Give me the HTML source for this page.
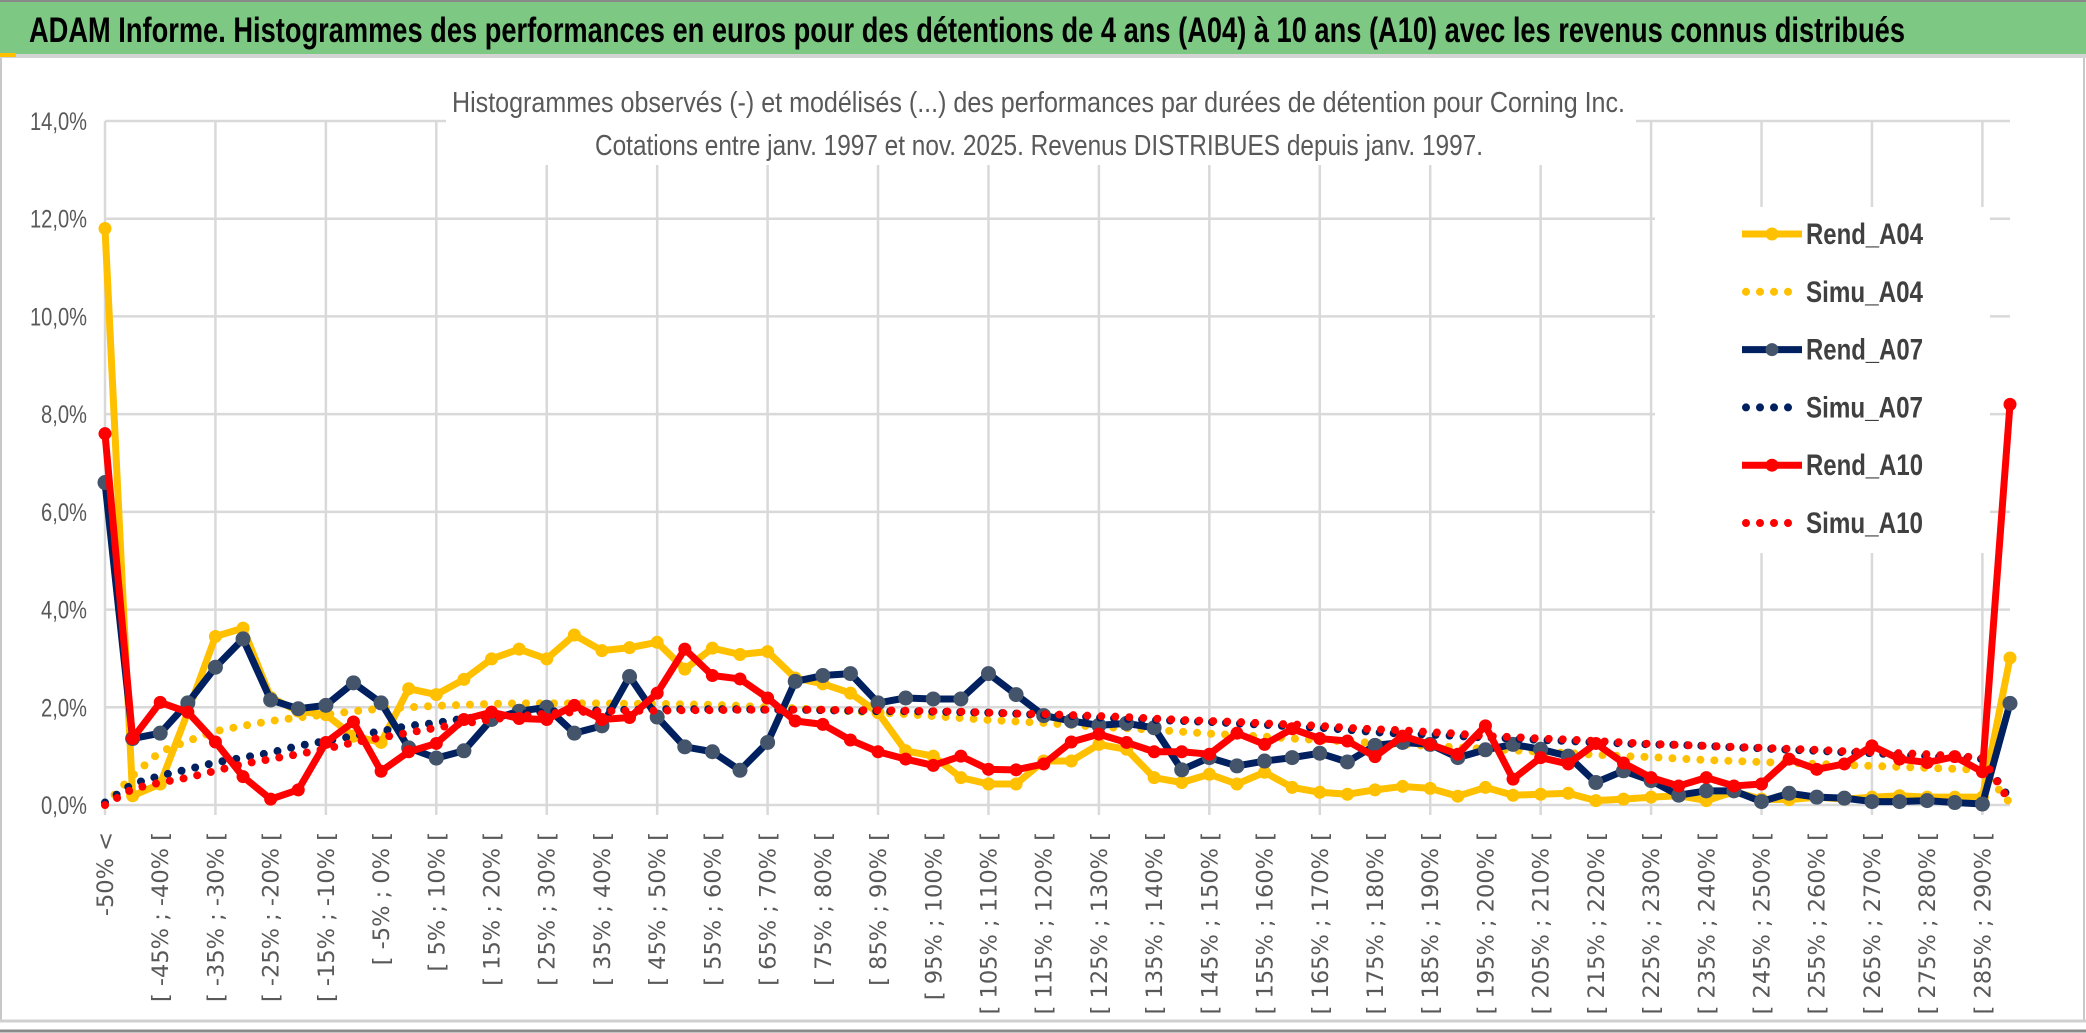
<!DOCTYPE html>
<html><head><meta charset="utf-8"><style>
html,body{margin:0;padding:0;background:#fff;}
svg{display:block;}
</style></head><body>
<svg id="chart" width="2086" height="1033" viewBox="0 0 2086 1033" xmlns="http://www.w3.org/2000/svg">
  <rect x="0" y="0" width="2086" height="1033" fill="#ffffff"/>
  <rect x="0" y="0" width="2086" height="54" fill="#7dc883"/>
  <line x1="0" y1="1" x2="2086" y2="1" stroke="#8a8a8a" stroke-width="2"/>
  <rect x="0" y="54" width="2086" height="4" fill="#d4d4d4"/>
  <rect x="0" y="53" width="16" height="4" fill="#ffc000"/>
  <text x="29" y="42" font-family="'Liberation Sans Narrow','Liberation Sans',sans-serif" font-weight="bold" font-size="35" fill="#000" textLength="1876" lengthAdjust="spacingAndGlyphs">ADAM Informe. Histogrammes des performances en euros pour des détentions de 4 ans (A04) à 10 ans (A10) avec les revenus connus distribués</text>
  <line x1="1" y1="58" x2="1" y2="1022" stroke="#c8c8c8" stroke-width="2"/>
  <line x1="2084" y1="58" x2="2084" y2="1022" stroke="#c8c8c8" stroke-width="2"/>
  <line x1="0" y1="1021" x2="2086" y2="1021" stroke="#d0d0d0" stroke-width="3"/>
  <line x1="0" y1="1031" x2="2086" y2="1031" stroke="#8a8a8a" stroke-width="3"/>
  <g id="grid"></g>
  <g id="yaxis"></g>
  <g id="xaxis"></g>
  <rect x="446" y="60" width="1190" height="105" fill="#ffffff"/>
  <text x="452" y="112" font-family="'Liberation Sans Narrow','Liberation Sans',sans-serif" font-size="29" fill="#595959" textLength="1173" lengthAdjust="spacingAndGlyphs">Histogrammes observés (-) et modélisés (...) des performances par durées de détention pour Corning Inc.</text>
  <text x="595" y="155" font-family="'Liberation Sans Narrow','Liberation Sans',sans-serif" font-size="29" fill="#595959" textLength="888" lengthAdjust="spacingAndGlyphs">Cotations entre janv. 1997 et nov. 2025. Revenus DISTRIBUES depuis janv. 1997.</text>
  <rect x="1655" y="207" width="335" height="346" fill="#ffffff"/>
  <g id="series"></g>
  <g id="legend"></g>
</svg>
<script>
const categories = ["-50% <","[ -50% ; -45% [","[ -45% ; -40% [","[ -40% ; -35% [","[ -35% ; -30% [","[ -30% ; -25% [","[ -25% ; -20% [","[ -20% ; -15% [","[ -15% ; -10% [","[ -10% ; -5% [",
"[ -5% ; 0% [","[ 0% ; 5% [","[ 5% ; 10% [","[ 10% ; 15% [","[ 15% ; 20% [","[ 20% ; 25% [","[ 25% ; 30% [","[ 30% ; 35% [","[ 35% ; 40% [","[ 40% ; 45% [",
"[ 45% ; 50% [","[ 50% ; 55% [","[ 55% ; 60% [","[ 60% ; 65% [","[ 65% ; 70% [","[ 70% ; 75% [","[ 75% ; 80% [","[ 80% ; 85% [","[ 85% ; 90% [","[ 90% ; 95% [",
"[ 95% ; 100% [","[ 100% ; 105% [","[ 105% ; 110% [","[ 110% ; 115% [","[ 115% ; 120% [","[ 120% ; 125% [","[ 125% ; 130% [","[ 130% ; 135% [","[ 135% ; 140% [","[ 140% ; 145% [",
"[ 145% ; 150% [","[ 150% ; 155% [","[ 155% ; 160% [","[ 160% ; 165% [","[ 165% ; 170% [","[ 170% ; 175% [","[ 175% ; 180% [","[ 180% ; 185% [","[ 185% ; 190% [","[ 190% ; 195% [",
"[ 195% ; 200% [","[ 200% ; 205% [","[ 205% ; 210% [","[ 210% ; 215% [","[ 215% ; 220% [","[ 220% ; 225% [","[ 225% ; 230% [","[ 230% ; 235% [","[ 235% ; 240% [","[ 240% ; 245% [",
"[ 245% ; 250% [","[ 250% ; 255% [","[ 255% ; 260% [","[ 260% ; 265% [","[ 265% ; 270% [","[ 270% ; 275% [","[ 275% ; 280% [","[ 280% ; 285% [","[ 285% ; 290% [","> 290%"];
const rendA04 = [11.8,0.19,0.43,1.9,3.45,3.62,2.2,1.92,1.85,1.41, 1.28,2.38,2.26,2.57,2.99,3.19,2.99,3.48,3.16,3.22, 3.33,2.78,3.21,3.08,3.14,2.60,2.48,2.29,1.89,1.11, 1.0,0.56,0.43,0.43,0.90,0.90,1.24,1.14,0.56,0.46, 0.63,0.43,0.67,0.36,0.26,0.22,0.31,0.38,0.34,0.18, 0.36,0.20,0.22,0.24,0.09,0.12,0.16,0.19,0.09,0.27, 0.12,0.11,0.16,0.12,0.16,0.19,0.16,0.16,0.16,3.01];
const simuA04 = [0.0,0.6,1.09,1.31,1.51,1.62,1.72,1.79,1.85,1.92, 1.97,2.0,2.03,2.05,2.07,2.08,2.08,2.08,2.08,2.07, 2.07,2.06,2.05,2.03,2.0,1.98,1.95,1.92,1.89,1.86, 1.82,1.78,1.74,1.71,1.68,1.64,1.6,1.57,1.54,1.5, 1.46,1.43,1.4,1.36,1.33,1.3,1.27,1.24,1.21,1.18, 1.15,1.12,1.09,1.06,1.03,1.0,0.98,0.95,0.92,0.9, 0.88,0.86,0.84,0.82,0.8,0.78,0.76,0.74,0.72,0.04];
const rendA07 = [6.6,1.36,1.47,2.09,2.82,3.40,2.15,1.97,2.04,2.50, 2.09,1.17,0.96,1.11,1.75,1.92,2.00,1.47,1.62,2.63, 1.80,1.19,1.09,0.71,1.28,2.53,2.65,2.69,2.09,2.19, 2.17,2.17,2.69,2.26,1.83,1.72,1.63,1.67,1.58,0.72, 0.97,0.80,0.90,0.97,1.06,0.88,1.22,1.28,1.24,0.97, 1.13,1.24,1.14,1.0,0.46,0.70,0.50,0.20,0.29,0.29, 0.07,0.24,0.16,0.14,0.07,0.07,0.09,0.05,0.02,2.08];
const simuA07 = [0.05,0.43,0.6,0.73,0.87,0.97,1.07,1.21,1.31,1.41, 1.51,1.62,1.68,1.77,1.82,1.87,1.91,1.93,1.94,1.95, 1.96,1.96,1.96,1.96,1.95,1.95,1.94,1.93,1.92,1.92, 1.91,1.9,1.89,1.87,1.84,1.82,1.79,1.76,1.74,1.72, 1.7,1.67,1.64,1.61,1.58,1.54,1.49,1.46,1.44,1.41, 1.38,1.36,1.33,1.31,1.28,1.26,1.24,1.23,1.21,1.18, 1.16,1.13,1.11,1.08,1.06,1.03,1.0,0.97,0.94,0.12];
const rendA10 = [7.6,1.36,2.10,1.90,1.29,0.58,0.12,0.31,1.28,1.70, 0.69,1.09,1.26,1.75,1.90,1.77,1.75,2.04,1.75,1.79, 2.29,3.19,2.65,2.58,2.19,1.72,1.65,1.33,1.09,0.94, 0.81,1.0,0.73,0.72,0.84,1.29,1.45,1.28,1.09,1.09, 1.04,1.47,1.24,1.56,1.36,1.31,0.99,1.41,1.24,1.04, 1.62,0.53,0.97,0.84,1.26,0.86,0.56,0.39,0.56,0.39, 0.43,0.94,0.73,0.84,1.21,0.94,0.87,0.99,0.68,8.2];
const simuA10 = [0.0,0.33,0.46,0.56,0.70,0.84,0.94,1.04,1.15,1.28, 1.38,1.48,1.58,1.67,1.75,1.82,1.87,1.90,1.92,1.93, 1.93,1.94,1.94,1.95,1.95,1.95,1.95,1.94,1.94,1.93, 1.92,1.91,1.89,1.87,1.86,1.84,1.82,1.80,1.77,1.74, 1.72,1.70,1.67,1.65,1.62,1.58,1.55,1.53,1.49,1.46, 1.41,1.39,1.36,1.34,1.31,1.28,1.25,1.23,1.21,1.19, 1.17,1.15,1.13,1.10,1.08,1.06,1.04,1.0,0.97,0.05];
const yTicks = [0,2,4,6,8,10,12,14];
const yTickLabels = ["0,0%","2,0%","4,0%","6,0%","8,0%","10,0%","12,0%","14,0%"];
const seriesNames = ["Rend_A04","Simu_A04","Rend_A07","Simu_A07","Rend_A10","Simu_A10"];

const NS = "http://www.w3.org/2000/svg";
const X0 = 105, X1 = 2010, Y0 = 805, YTOP = 121, YMAX = 14;
function xOf(i){ return X0 + i * (X1 - X0) / (categories.length - 1); }
function yOf(v){ return Y0 - v * (Y0 - YTOP) / YMAX; }
function mk(tag, attrs, parent){ const e = document.createElementNS(NS, tag); for (const k in attrs) e.setAttribute(k, attrs[k]); parent.appendChild(e); return e; }

const grid = document.getElementById('grid');
yTicks.forEach((t, k) => {
  const l = mk('line', {x1: X0, x2: X1, y1: yOf(t), y2: yOf(t), stroke: '#d9d9d9', 'stroke-width': 2.5}, grid);
  
  
});
categories.forEach((c, i) => {
  if (i % 4 === 0) {
    const l = mk('line', {x1: xOf(i), x2: xOf(i), y1: YTOP, y2: Y0 + 10, stroke: '#d9d9d9', 'stroke-width': 2.5}, grid);
    
    
  }
});
const yaxis = document.getElementById('yaxis');
yTicks.forEach((t, k) => {
  const tx = mk('text', {x: 87, y: yOf(t) + 9, 'text-anchor': 'end', 'font-family': "'Liberation Sans Narrow','Liberation Sans',sans-serif", 'font-size': 25, fill: '#595959', textLength: yTickLabels[k].length > 4 ? 57 : 46, lengthAdjust: 'spacingAndGlyphs'}, yaxis);
  tx.textContent = yTickLabels[k];
  
  
});
const xaxis = document.getElementById('xaxis');
categories.forEach((c, i) => {
  if (i % 2 === 0) {
    const x = xOf(i) + 8, y = 832;
    const tx = mk('text', {x: x, y: y, transform: `rotate(-90 ${x} ${y})`, 'text-anchor': 'end', 'font-family': "'DejaVu Sans',sans-serif", 'font-size': 22.5, fill: '#595959'}, xaxis);
    tx.textContent = c;
    
    
  }
});

const seriesG = document.getElementById('series');
function drawSolid(vals, color, mcolor, r, name){
  const g = mk('g', {}, seriesG);
  
  
  const pl = mk('polyline', {points: vals.map((v, i) => xOf(i) + ',' + yOf(v)).join(' '), fill: 'none', stroke: color, 'stroke-width': 7, 'stroke-linejoin': 'round'}, g);
  
  
  vals.forEach((v, i) => {
    const c = mk('circle', {cx: xOf(i), cy: yOf(v), r: r, fill: mcolor}, g);
    
    
  });
}
function drawDotted(vals, color, name){
  const pl = mk('polyline', {points: vals.map((v, i) => xOf(i) + ',' + yOf(v)).join(' '), fill: 'none', stroke: color, 'stroke-width': 8, 'stroke-linecap': 'round', 'stroke-dasharray': '0 14'}, seriesG);
  
  
}
drawSolid(rendA04, '#ffc000', '#ffc000', 6.5, 'rend-a04');
drawDotted(simuA04, '#ffc000', 'simu-a04');
drawSolid(rendA07, '#002060', '#44546a', 7.5, 'rend-a07');
drawDotted(simuA07, '#002060', 'simu-a07');
drawSolid(rendA10, '#ff0000', '#ff0000', 6.5, 'rend-a10');
drawDotted(simuA10, '#ff0000', 'simu-a10');

const legend = document.getElementById('legend');
const legColors = ['#ffc000','#ffc000','#002060','#002060','#ff0000','#ff0000'];
const legMarker = ['#ffc000',null,'#44546a',null,'#ff0000',null];
seriesNames.forEach((n, k) => {
  const y = 234 + k * 57.8;
  const g = mk('g', {}, legend);
  
  
  if (k % 2 === 0) {
    mk('line', {x1: 1742, x2: 1802, y1: y, y2: y, stroke: legColors[k], 'stroke-width': 7}, g);
    mk('circle', {cx: 1772, cy: y, r: 6.5, fill: legMarker[k]}, g);
  } else {
    mk('line', {x1: 1746, x2: 1802, y1: y, y2: y, stroke: legColors[k], 'stroke-width': 8, 'stroke-linecap': 'round', 'stroke-dasharray': '0 14'}, g);
  }
  const t = mk('text', {x: 1806, y: y + 10, 'font-family': "'Liberation Sans Narrow','Liberation Sans',sans-serif", 'font-weight': 'bold', 'font-size': 30, fill: '#404040', textLength: 117, lengthAdjust: 'spacingAndGlyphs'}, g);
  t.textContent = n;
});
</script>
</body></html>
